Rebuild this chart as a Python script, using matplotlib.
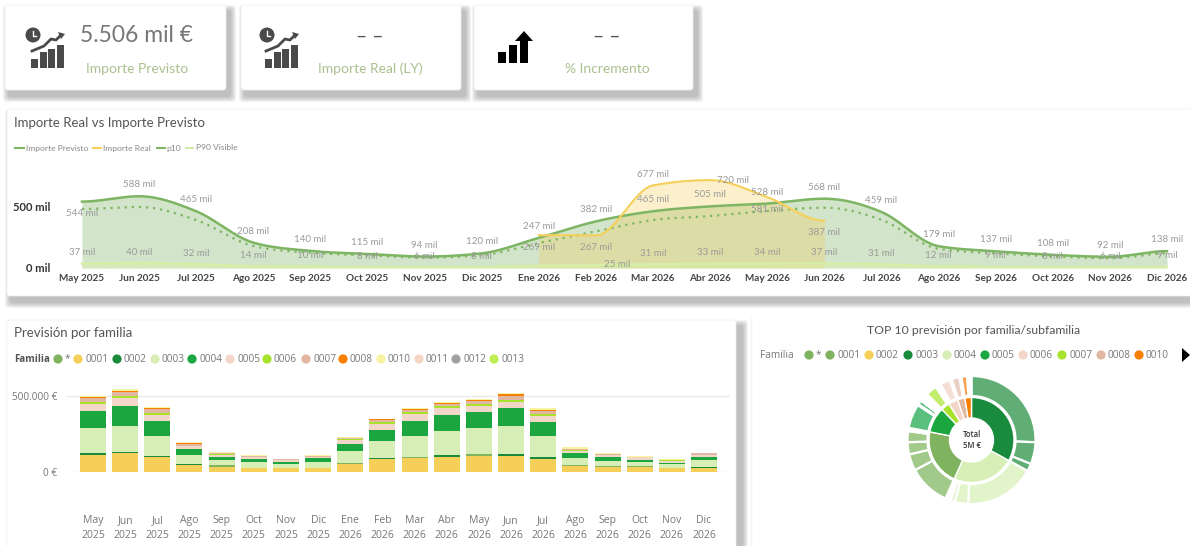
import numpy as np
import matplotlib
matplotlib.use('Agg')
from matplotlib import pyplot as plt
from matplotlib.patches import FancyBboxPatch, Circle, Rectangle, Polygon

W, H = 1190, 546

# area chart
months = ['May 2025', 'Jun 2025', 'Jul 2025', 'Ago 2025', 'Sep 2025', 'Oct 2025', 'Nov 2025', 'Dic 2025',
          'Ene 2026', 'Feb 2026', 'Mar 2026', 'Abr 2026', 'May 2026', 'Jun 2026', 'Jul 2026', 'Ago 2026',
          'Sep 2026', 'Oct 2026', 'Nov 2026', 'Dic 2026']
p90 = [544, 588, 465, 208, 140, 115, 94, 120, 247, 382, 465, 505, 528, 568, 459, 179, 137, 108, 92, 138]
previsto = [484, 500, 393, 180, 125, 104, 85, 105, 205, 300, 393, 426, 467, 494, 395, 157, 120, 95, 80, 120]
real = [269, 267, 677, 720, 581, 387]
p10 = [37, 40, 32, 14, 10, 8, 6, 8, 18, 25, 31, 33, 34, 37, 31, 12, 9, 8, 6, 9]

# stacked bars, thousands of euro
bar_labels = [m.replace(' ', '\n') for m in months]
fam_star = [0, 0, 0, 0, 11, 0, 2, 0, 11, 0, 11, 0, 11, 0, 0, 9, 9, 5, 5, 0]
fam_0001 = [109, 122, 96, 44, 33, 26, 24, 26, 50, 83, 89, 98, 105, 103, 83, 37, 31, 31, 24, 28]
fam_0002 = [13, 11, 11, 7, 0, 2, 0, 2, 0, 6, 0, 11, 0, 13, 13, 0, 0, 0, 0, 7]
fam_0003 = [168, 168, 129, 59, 33, 37, 26, 35, 76, 115, 135, 157, 170, 185, 142, 46, 35, 28, 24, 46]
fam_0004 = [109, 129, 100, 39, 22, 20, 15, 26, 44, 74, 100, 109, 105, 115, 92, 33, 20, 17, 9, 20]
fam_0005 = [44, 52, 39, 20, 15, 13, 9, 9, 26, 37, 44, 44, 41, 44, 35, 15, 15, 15, 13, 9]
fam_0006 = [15, 15, 13, 4, 4, 2, 2, 1, 7, 11, 11, 11, 11, 13, 13, 1, 1, 1, 1, 1]
fam_0007 = [24, 24, 22, 13, 7, 4, 4, 7, 7, 13, 15, 13, 22, 24, 22, 11, 7, 2, 1, 11]
fam_0008 = [9, 9, 9, 4, 2, 2, 1, 1, 1, 5, 7, 9, 7, 11, 7, 1, 1, 1, 1, 1]
fam_0010 = [6, 11, 9, 4, 4, 2, 2, 2, 6, 4, 9, 7, 7, 9, 9, 9, 7, 4, 5, 4]
stack = [fam_0001, fam_star, fam_0002, fam_0003, fam_0004, fam_0005, fam_0006, fam_0007, fam_0008, fam_0010]
stack_colors = ['#F6CF58', '#7FB35F', '#1A8A3C', '#D7EFB6', '#1BA63F', '#F2D6C8', '#A8E22C', '#E2B7A2', '#F77F00', '#F7F3A0']

# sunburst, thousands of euro
inner_vals = [1820, 1300, 1178, 535, 184, 199, 153, 137]
inner_colors = ['#1A8A3C', '#D7EFB6', '#7FB35F', '#1BA63F', '#A8E22C', '#F2D6C8', '#E2B7A2', '#F77F00']
outer_vals = [1407, 306, 107, 980, 184, 60, 76, 581, 230, 168, 153, 46, 337, 16, 60, 122,
              153, 31, 46, 138, 15, 15, 107, 31, 77, 60]
outer_colors = ['#60AE76', '#60AE76', '#60AE76', '#E2F4CA', '#E2F4CA', '#E2F4CA', 'none',
                '#A0C98A', '#A0C98A', '#A0C98A', '#A0C98A', 'none', '#5BBF7E', 'none', '#5BBF7E', 'none',
                '#C3EB6E', 'none', 'none', '#F5DFD4', 'none', 'none', '#EAD0C3', 'none', '#F9A04E', 'none']

legend_bar = ['*', '0001', '0002', '0003', '0004', '0005', '0006', '0007', '0008', '0010', '0011', '0012', '0013']
legend_bar_colors = ['#7FB35F', '#F6CF58', '#1A8A3C', '#D7EFB6', '#1BA63F', '#F2D6C8', '#A8E22C', '#E2B7A2', '#F77F00', '#F7F3A0', '#F5D5C5', '#A0A0A0', '#BEF055']
legend_sun = ['*', '0001', '0002', '0003', '0004', '0005', '0006', '0007', '0008', '0010']
legend_sun_colors = ['#7FB35F', '#7FB35F', '#F6CF58', '#1A8A3C', '#D7EFB6', '#1BA63F', '#F2D6C8', '#A8E22C', '#E2B7A2', '#F77F00']

LATO = ['Lato', 'DejaVu Sans']
BODY = ['Open Sans', 'DejaVu Sans']
GREEN = '#7DB563'
YELLOW = '#F6CF58'


def ax_px(fig, x0, y0, x1, y1, **kw):
    ax = fig.add_axes([x0 / W, 1 - y1 / H, (x1 - x0) / W, (y1 - y0) / H], **kw)
    ax.patch.set_visible(False)
    return ax


def smooth(xs, ys, n=30):
    # monotone hermite curve so the lines look like the rounded power bi ones
    xs = np.array(xs, dtype=float)
    ys = np.array(ys, dtype=float)
    d = np.diff(ys)
    m = np.zeros(len(ys))
    for i in range(1, len(ys) - 1):
        if d[i - 1] * d[i] > 0:
            m[i] = np.sign(d[i]) * min(abs(d[i - 1] + d[i]) / 2, 2 * abs(d[i - 1]), 2 * abs(d[i]))
    out_x = []
    out_y = []
    for i in range(len(d)):
        t = np.linspace(0, 1, n)
        out_x.append(xs[i] + t)
        out_y.append((2*t**3 - 3*t**2 + 1) * ys[i] + (t**3 - 2*t**2 + t) * m[i]
                     + (-2*t**3 + 3*t**2) * ys[i + 1] + (t**3 - t**2) * m[i + 1])
    return np.concatenate(out_x), np.concatenate(out_y)


def card(ax, x0, y0, x1, y1, dx=4, dy=6):
    for i in range(6, 0, -1):
        ax.add_patch(FancyBboxPatch((x0 + dx - i, y0 + dy - i), x1 - x0 + 2 * i, y1 - y0 + 2 * i,
                                    boxstyle='round,pad=0,rounding_size=4', fc='#555555', ec='none', alpha=0.07))
    ax.add_patch(FancyBboxPatch((x0, y0), x1 - x0, y1 - y0, boxstyle='round,pad=0,rounding_size=3',
                                fc='white', ec='#f0f0f0', lw=0.5))


def trend_icon(ax, ox):
    c = '#4A4A4A'
    ax.add_patch(Circle((ox + 33, 35), 7.5, fc=c, ec='none'))
    ax.plot([ox + 33, ox + 33, ox + 36], [31, 36, 36], color='white', lw=1)
    for bx, top in zip([31, 40, 48, 57], [59, 52, 49, 45]):
        ax.add_patch(Rectangle((ox + bx, top), 6.5, 68 - top, fc=c, ec='none'))
    ax.plot([ox + 32, ox + 44, ox + 51, ox + 56, ox + 61], [51, 46, 39, 40, 35], color=c, lw=2)
    ax.add_patch(Polygon([(ox + 58, 32), (ox + 65, 34), (ox + 61, 39)], fc=c, ec='none'))


fig = plt.figure(figsize=(W / 100, H / 100), dpi=100)
bg = fig.add_axes([0, 0, 1, 1])
bg.set_xlim(0, W)
bg.set_ylim(H, 0)
bg.axis('off')

# cards and panels
card(bg, 5, 5, 226, 90)
card(bg, 241, 5, 461, 90)
card(bg, 474, 5, 693, 90)
card(bg, 7, 109, 1200, 296)
card(bg, 7, 320, 736, 560, dx=6)
bg.add_patch(Rectangle((751, 318), 440, 228, fc='white', ec='none'))
bg.plot([751, 751], [318, 546], color='#f4f4f4', lw=1)

# kpi text
bg.text(137, 36, '5.506 mil €', family=LATO, fontsize=16.5, color='#777777', ha='center', va='center')
bg.text(137, 69, 'Importe Previsto', family=LATO, fontsize=10, color='#A9C18F', ha='center', va='center')
bg.text(370, 37, '– –', family=LATO, fontsize=14, color='#555555', ha='center', va='center')
bg.text(370, 69, 'Importe Real (LY)', family=LATO, fontsize=10, color='#A9C18F', ha='center', va='center')
bg.text(607, 37, '– –', family=LATO, fontsize=14, color='#555555', ha='center', va='center')
bg.text(607, 69, '% Incremento', family=LATO, fontsize=10, color='#A9C18F', ha='center', va='center')

trend_icon(bg, 0)
trend_icon(bg, 234)
for bx, top in zip([498, 509, 520], [52, 45, 40]):
    bg.add_patch(Rectangle((bx, top), 7.5, 63 - top, fc='black', ec='none'))
bg.add_patch(Polygon([(515, 41), (533, 41), (524, 31)], fc='black', ec='none'))

# titles
bg.text(14, 123, 'Importe Real vs Importe Previsto', family=LATO, fontsize=9.5, color='#555555', va='center')
bg.text(14, 333, 'Previsión por familia', family=LATO, fontsize=9.5, color='#555555', va='center')
bg.text(974, 331, 'TOP 10 previsión por familia/subfamilia', family=LATO, fontsize=8.8, color='#555555', va='center', ha='center')

# area chart legend
for x0, x1, lab, tx, col in [(15, 24, 'Importe Previsto', 26, GREEN), (93, 101, 'Importe Real', 103, YELLOW),
                             (157, 165, 'p10', 166, GREEN), (186, 193, 'P90 Visible', 196, '#D4ECAA')]:
    bg.plot([x0, x1], [148, 148], color=col, lw=1.5)
    bg.text(tx, 148, lab, family=LATO, fontsize=6.1, color='#888888', va='center')

# area chart
ax = ax_px(fig, 55, 150, 1190, 268)
step = (1167 - 82) / 19
ax.set_xlim((55 - 82) / step, (1190 - 82) / step)
ax.set_ylim(0, 967)
idx = list(range(len(months)))
sx, sy = smooth(idx, p90)
ax.fill_between(sx, 0, sy, color='#BFD9B3', alpha=0.7, lw=0)
ax.plot(sx, sy, color=GREEN, lw=1.8)
sx, sy = smooth(idx, previsto)
ax.plot(sx, sy, color=GREEN, lw=1.6, linestyle=(0, (1, 2.2)))
sx, sy = smooth(idx[8:14], real)
ax.fill_between(sx, 0, sy, color=YELLOW, alpha=0.3, lw=0)
ax.plot(sx, sy, color=YELLOW, lw=1.5)
sx, sy = smooth(idx, p10)
ax.fill_between(sx, 0, sy, color='#D9F0A8', alpha=0.45, lw=0)
ax.plot(sx, sy, color='#D6EEA6', lw=1.8)
ax.set_xticks(idx)
ax.set_xticklabels(months, family=LATO, fontweight='bold', fontsize=7.2, color='#444444')
ax.set_yticks([0, 500])
ax.set_yticklabels(['0 mil', '500 mil'], family=LATO, fontweight='bold', fontsize=8, color='#333333')
ax.tick_params(length=0)
ax.tick_params(axis='x', pad=4)
ax.tick_params(axis='y', pad=3.5)
for s in ax.spines.values():
    s.set_visible(False)


def val_label(i, v, dy, dx=0):
    ax.annotate(f'{v} mil', (i, v), xytext=(dx * 0.72, dy * 0.72), textcoords='offset points', family=LATO,
                fontsize=7, color='#9A9A9A', ha='center', va='center')


for i, v in enumerate(p90):
    val_label(i, v, -12 if i == 0 else 11.5)
for i, v in enumerate(real):
    if i == 3:
        val_label(i + 8, v, 0, 23)
    elif i == 2:
        val_label(i + 8, v, 11)
    else:
        val_label(i + 8, v, -12)
for i, v in enumerate(p10):
    if i == 8:
        continue
    if i == 9:
        val_label(i, v, 0, 21)
    else:
        val_label(i, v, 11)

# bar legend
bg.text(14, 359, 'Familia', family=BODY, fontweight='bold', fontsize=7, color='#555555', va='center')
for cx, lab, col in zip([58, 78, 117, 155, 192, 230, 267, 306, 343, 381, 419, 456, 494], legend_bar, legend_bar_colors):
    bg.add_patch(Circle((cx, 359), 4.6, fc=col, ec='none'))
    bg.text(cx + 7, 359, lab, family=BODY, fontsize=7.2, color='#777777', va='center')

# stacked bars
ax2 = ax_px(fig, 67, 380, 730, 472)
bstep = (704 - 93) / 19
ax2.set_xlim((67 - 93) / bstep, (730 - 93) / bstep)
ax2.set_ylim(0, 602)
bottom = np.zeros(len(bar_labels))
for vals, col in zip(stack, stack_colors):
    ax2.bar(idx, vals, bottom=bottom, width=26 / bstep, color=col, linewidth=0, zorder=3)
    bottom += np.array(vals)
ax2.set_xticks(idx)
ax2.set_xticklabels(bar_labels, family=BODY, fontsize=7.5, color='#777777', linespacing=1.5)
ax2.set_yticks([0, 500])
ax2.set_yticklabels(['0 €', '500.000 €'], family=BODY, fontsize=7.2, color='#777777')
ax2.yaxis.grid(True, color='#EAEAEA', lw=1)
ax2.set_axisbelow(True)
ax2.tick_params(length=0)
ax2.tick_params(axis='x', pad=31)
ax2.tick_params(axis='y', pad=7)
for s in ax2.spines.values():
    s.set_visible(False)

# sunburst legend
bg.text(760, 355, 'Familia', family=BODY, fontsize=7.2, color='#777777', va='center')
for cx, lab, col in zip([809, 830, 869, 908, 947, 985, 1023, 1062, 1101, 1139], legend_sun, legend_sun_colors):
    bg.add_patch(Circle((cx, 355), 4.6, fc=col, ec='none'))
    bg.text(cx + 7, 355, lab, family=BODY, fontsize=7.2, color='#777777', va='center')
bg.add_patch(Polygon([(1182, 348), (1182, 362), (1190, 355)], fc='black', ec='none'))

# sunburst
ax3 = ax_px(fig, 971.5 - 66, 440 - 66, 971.5 + 66, 440 + 66)
ax3.pie(inner_vals, colors=inner_colors, radius=42.5, startangle=90, counterclock=False,
        wedgeprops=dict(width=20.5, edgecolor='white', linewidth=1))
ax3.pie(outer_vals, colors=outer_colors, radius=64, startangle=90, counterclock=False,
        wedgeprops=dict(width=20, edgecolor='white', linewidth=1.6))
ax3.set_xlim(-66, 66)
ax3.set_ylim(-66, 66)
ax3.text(0, 0, 'Total\n5M €', family=BODY, fontsize=5.5, color='#333333', ha='center', va='center', fontweight='semibold')

plt.savefig('out.png', dpi=100)
